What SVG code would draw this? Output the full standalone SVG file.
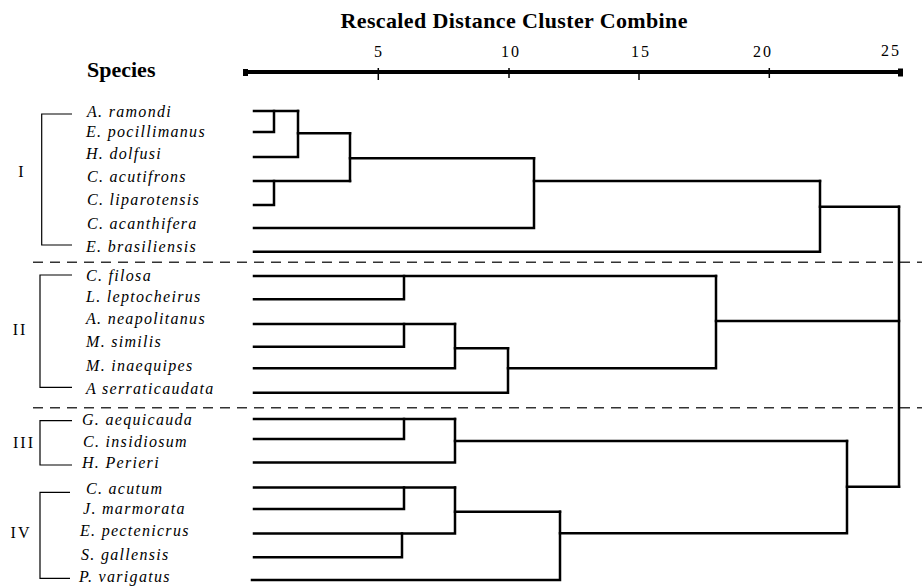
<svg xmlns="http://www.w3.org/2000/svg" width="922" height="588" viewBox="0 0 922 588">
<style>
.bg{fill:#fff}
.sp{font-family:"Liberation Serif","Times New Roman",serif;font-style:italic;font-size:16px;letter-spacing:1.3px;fill:#000}
.hd{font-family:"Liberation Serif","Times New Roman",serif;font-weight:bold;font-size:22px;fill:#000}
.num{font-family:"Liberation Serif","Times New Roman",serif;font-size:16px;letter-spacing:2px;fill:#000;text-anchor:middle}
.grp{font-family:"Liberation Serif","Times New Roman",serif;font-size:16px;letter-spacing:2px;fill:#000;text-anchor:middle}
.br{fill:none;stroke:#000;stroke-width:1.2}
.dash{fill:none;stroke:#333;stroke-width:1.6;stroke-dasharray:10 7}
.ln{fill:none;stroke:#000;stroke-width:2.5;stroke-linecap:square;stroke-linejoin:miter}
.axis{fill:none;stroke:#000;stroke-width:4}
.tick{fill:none;stroke:#000;stroke-width:1.5}
</style>
<rect class="bg" x="0" y="0" width="922" height="588"/>

<g id="title">
<text class="hd" x="340.5" y="28" textLength="347" lengthAdjust="spacing">Rescaled Distance Cluster Combine</text>
</g>
<g id="species-heading">
<text class="hd" x="87" y="77">Species</text>
</g>

<g id="axis">
<line class="axis" x1="245" y1="72" x2="901" y2="72"/>
<rect x="243" y="69" width="5" height="7" fill="#000"/>
<rect x="898" y="68.5" width="5" height="8" fill="#000"/>
<line class="tick" x1="378.3" y1="68" x2="378.3" y2="80"/>
<line class="tick" x1="509" y1="68" x2="509" y2="78"/>
<line class="tick" x1="639" y1="72" x2="639" y2="80"/>
<line class="tick" x1="769.3" y1="68" x2="769.3" y2="78"/>
<text class="num" x="379" y="57">5</text>
<text class="num" x="511" y="57">10</text>
<text class="num" x="641" y="57">15</text>
<text class="num" x="763" y="57">20</text>
<text class="num" x="891" y="56">25</text>
</g>

<g id="separators">
<line class="dash" x1="33" y1="262.3" x2="922" y2="262.3"/>
<line class="dash" x1="33" y1="407.7" x2="922" y2="407.7"/>
</g>

<g id="group-I">
<path class="br" d="M72 114 H41.7 V245 H72"/>
<text class="grp" x="22" y="177">I</text>
</g>
<g id="group-II">
<path class="br" d="M72 275 H40 V387.3 H72"/>
<text class="grp" x="20" y="335">II</text>
</g>
<g id="group-III">
<path class="br" d="M72 420.7 H40 V465 H72"/>
<text class="grp" x="24" y="448">III</text>
</g>
<g id="group-IV">
<path class="br" d="M70 492.3 H40 V578.3 H70"/>
<text class="grp" x="21" y="538">IV</text>
</g>

<g id="leaf-a-ramondi"><text class="sp" x="87" y="117">A. ramondi</text></g>
<g id="leaf-e-pocillimanus"><text class="sp" x="86" y="137">E. pocillimanus</text></g>
<g id="leaf-h-dolfusi"><text class="sp" x="86" y="159">H. dolfusi</text></g>
<g id="leaf-c-acutifrons"><text class="sp" x="87" y="182">C. acutifrons</text></g>
<g id="leaf-c-liparotensis"><text class="sp" x="87" y="205">C. liparotensis</text></g>
<g id="leaf-c-acanthifera"><text class="sp" x="87" y="229">C. acanthifera</text></g>
<g id="leaf-e-brasiliensis"><text class="sp" x="86" y="252">E. brasiliensis</text></g>

<g id="leaf-c-filosa"><text class="sp" x="86" y="281">C. filosa</text></g>
<g id="leaf-l-leptocheirus"><text class="sp" x="86" y="302">L. leptocheirus</text></g>
<g id="leaf-a-neapolitanus"><text class="sp" x="86" y="324">A. neapolitanus</text></g>
<g id="leaf-m-similis"><text class="sp" x="86" y="347">M. similis</text></g>
<g id="leaf-m-inaequipes"><text class="sp" x="86" y="370.5">M. inaequipes</text></g>
<g id="leaf-a-serraticaudata"><text class="sp" x="86" y="394">A serraticaudata</text></g>

<g id="leaf-g-aequicauda"><text class="sp" x="82" y="425">G. aequicauda</text></g>
<g id="leaf-c-insidiosum"><text class="sp" x="83" y="446.5">C. insidiosum</text></g>
<g id="leaf-h-perieri"><text class="sp" x="82" y="468">H. Perieri</text></g>

<g id="leaf-c-acutum"><text class="sp" x="86" y="494">C. acutum</text></g>
<g id="leaf-j-marmorata"><text class="sp" x="83" y="514">J. marmorata</text></g>
<g id="leaf-e-pectenicrus"><text class="sp" x="80" y="536">E. pectenicrus</text></g>
<g id="leaf-s-gallensis"><text class="sp" x="81" y="560">S. gallensis</text></g>
<g id="leaf-p-varigatus"><text class="sp" x="79" y="582">P. varigatus</text></g>

<g id="connectors">
<!-- cluster I -->
<path class="ln" d="M254 111 H298"/>
<path class="ln" d="M254 132 H274 V111"/>
<path class="ln" d="M254 157 H298 V111"/>
<path class="ln" d="M298 133.3 H350"/>
<path class="ln" d="M254 181 H350"/>
<path class="ln" d="M254 205 H274 V181"/>
<path class="ln" d="M350 133.3 V181"/>
<path class="ln" d="M350 158.3 H534"/>
<path class="ln" d="M254 228 H534 V158.3"/>
<path class="ln" d="M534 181 H820"/>
<path class="ln" d="M254 251.7 H820 V181"/>
<path class="ln" d="M820 206.7 H899"/>
<!-- cluster II -->
<path class="ln" d="M254 276 H716"/>
<path class="ln" d="M254 299.3 H404 V276"/>
<path class="ln" d="M254 324 H455"/>
<path class="ln" d="M254 346.7 H404 V324"/>
<path class="ln" d="M254 368.3 H455 V324"/>
<path class="ln" d="M455 348.3 H508"/>
<path class="ln" d="M254 392.7 H508 V348.3"/>
<path class="ln" d="M508 368.3 H716 V276"/>
<path class="ln" d="M716 321 H899"/>
<!-- cluster III -->
<path class="ln" d="M254 419 H455"/>
<path class="ln" d="M254 439 H404 V419"/>
<path class="ln" d="M254 462.5 H455 V419"/>
<path class="ln" d="M455 441 H847"/>
<!-- cluster IV -->
<path class="ln" d="M254 487.5 H455"/>
<path class="ln" d="M254 509 H404 V487.5"/>
<path class="ln" d="M254 533.5 H455 V487.5"/>
<path class="ln" d="M254 557.3 H402 V533.5"/>
<path class="ln" d="M455 511.7 H560"/>
<path class="ln" d="M252 580 H560 V511.7"/>
<path class="ln" d="M560 533.3 H847 V441"/>
<path class="ln" d="M847 486.7 H899"/>
<!-- root -->
<path class="ln" d="M899 206.7 V486.7"/>
</g>
</svg>
